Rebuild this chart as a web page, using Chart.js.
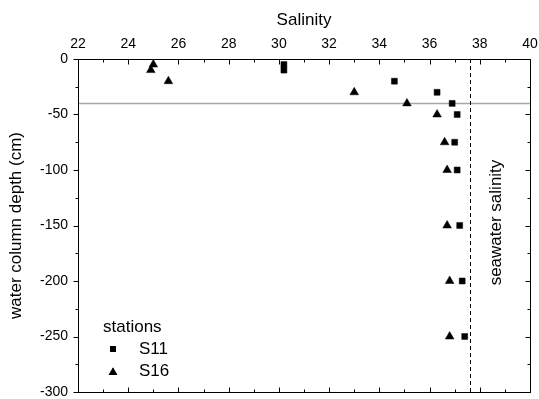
<!DOCTYPE html>
<html><head><meta charset="utf-8">
<script src="https://cdn.jsdelivr.net/npm/chart.js@4"></script>
<style>html,body{margin:0;padding:0;background:#fff}#wrap{width:539px;height:399px}</style>
</head><body><div id="wrap"><canvas id="c" width="539" height="399"></canvas></div>
<script>
// ---- data ----
const salinityTicks = [22, 24, 26, 28, 30, 32, 34, 36, 38, 40];
const depthTicks = [0, -50, -100, -150, -200, -250, -300];
const stationNames = ['S11', 'S16'];
const s11Salinity = [30.2, 30.2, 34.6, 36.3, 36.9, 37.1, 37.0, 37.1, 37.2, 37.3, 37.4];
const s11Depth    = [-5, -10, -20, -30, -40, -50, -75, -100, -150, -200, -250];
const s16Salinity = [25.0, 24.9, 25.6, 33.0, 35.1, 36.3, 36.6, 36.7, 36.7, 36.8, 36.8];
const s16Depth    = [-5, -10, -20, -30, -40, -50, -75, -100, -150, -200, -250];
const seawaterSalinity = 37.6;
const referenceDepth = -40;

const FONT = "'Liberation Sans', Arial, sans-serif";
Chart.defaults.font.family = FONT;
Chart.defaults.color = '#000';

const toPts = (xs, ys) => xs.map((x, i) => ({ x: x, y: ys[i] }));

const decorPlugin = {
  id: 'decor',
  beforeDatasetsDraw(chart) {
    const { ctx, chartArea: a, scales } = chart;
    ctx.save();
    const yy = Math.round(scales.y.getPixelForValue(referenceDepth)) + 0.5;
    ctx.strokeStyle = '#a8a8a8';
    ctx.lineWidth = 1.3;
    ctx.beginPath(); ctx.moveTo(a.left, yy); ctx.lineTo(a.right, yy); ctx.stroke();
    const xx = Math.round(scales.x.getPixelForValue(seawaterSalinity)) + 0.5;
    ctx.strokeStyle = '#000';
    ctx.lineWidth = 1;
    ctx.setLineDash([4, 3]);
    ctx.beginPath(); ctx.moveTo(xx, a.top); ctx.lineTo(xx, a.bottom); ctx.stroke();
    ctx.restore();
  },
  afterDatasetsDraw(chart) {
    const { ctx, chartArea: a, scales } = chart;
    const L = Math.round(a.left) + 0.5, R = Math.round(a.right) + 0.5;
    const T = Math.round(a.top) + 0.5, B = Math.round(a.bottom) + 0.5;
    ctx.save();
    ctx.strokeStyle = '#000';
    ctx.lineWidth = 1;
    ctx.strokeRect(L, T, R - L, B - T);
    ctx.beginPath();
    for (let v = salinityTicks[0]; v <= salinityTicks[salinityTicks.length - 1]; v += 1) {
      const major = salinityTicks.includes(v);
      const len = major ? 5 : 3;
      const px = Math.round(scales.x.getPixelForValue(v)) + 0.5;
      ctx.moveTo(px, T); ctx.lineTo(px, T + len);
      ctx.moveTo(px, B); ctx.lineTo(px, B - len);
    }
    for (let v = 0; v >= -300; v -= 25) {
      const major = depthTicks.includes(v);
      const len = major ? 5 : 3;
      const py = Math.round(scales.y.getPixelForValue(v)) + 0.5;
      ctx.moveTo(L, py); ctx.lineTo(L - len, py);
      ctx.moveTo(R, py); ctx.lineTo(R - len, py);
    }
    ctx.stroke();
    ctx.restore();
  },
  afterDraw(chart) {
    const { ctx, chartArea: a, scales } = chart;
    ctx.save();
    ctx.fillStyle = '#000';
    const xx = scales.x.getPixelForValue(seawaterSalinity);
    ctx.translate(xx + 27, (a.top + a.bottom) / 2 - 3);
    ctx.rotate(-Math.PI / 2);
    ctx.font = '17px ' + FONT;
    ctx.textAlign = 'center';
    ctx.textBaseline = 'middle';
    ctx.fillText('seawater salinity', 0, 0);
    ctx.restore();

    ctx.save();
    ctx.fillStyle = '#000';
    ctx.font = '17px ' + FONT;
    ctx.textBaseline = 'middle';
    ctx.textAlign = 'left';
    const lx = a.left + 25, ly = a.bottom - 65;
    ctx.fillText('stations', lx, ly);
    chart.data.datasets.forEach((ds, i) => {
      const y = ly + 22 * (i + 1);
      Chart.helpers.drawPoint(ctx, { pointStyle: ds.pointStyle, radius: ds.pointRadius, borderWidth: 0, rotation: 0 }, a.left + 35, y + (ds.pointStyle === 'triangle' ? 1.5 : 0));
      ctx.fillStyle = '#000';
      ctx.fill();
      ctx.fillText(stationNames[i], a.left + 61, y);
    });
    ctx.restore();
  }
};

const noEdgePadding = (s) => { s.paddingLeft = 0; s.paddingRight = 0; s.paddingTop = 0; s.paddingBottom = 0; };

new Chart(document.getElementById('c').getContext('2d'), {
  type: 'scatter',
  data: {
    datasets: [
      { label: stationNames[0], data: toPts(s11Salinity, s11Depth), pointStyle: 'rect', pointRadius: 4.2,
        backgroundColor: '#000', borderColor: '#000', borderWidth: 0.5 },
      { label: stationNames[1], data: toPts(s16Salinity, s16Depth), pointStyle: 'triangle', pointRadius: 5,
        backgroundColor: '#000', borderColor: '#000', borderWidth: 0.5 }
    ]
  },
  options: {
    responsive: false, animation: false, devicePixelRatio: 1,
    layout: { padding: { left: 0, top: 0, right: 9, bottom: 7 } },
    plugins: { legend: { display: false }, tooltip: { enabled: false } },
    scales: {
      x: {
        type: 'linear', position: 'top', min: 22, max: 40,
        afterBuildTicks(s) { s.ticks = salinityTicks.map(v => ({ value: v })); },
        ticks: { font: { size: 14 }, color: '#000', padding: 6, maxRotation: 0 },
        grid: { display: false, drawTicks: false }, border: { display: false },
        title: { display: true, text: 'Salinity', font: { size: 17 }, color: '#000', padding: { top: 10, bottom: 0 } },
        afterFit(s) { s.height = 59; noEdgePadding(s); }
      },
      y: {
        type: 'linear', position: 'left', min: -300, max: 0,
        afterBuildTicks(s) { s.ticks = depthTicks.map(v => ({ value: v })); },
        ticks: { font: { size: 14, lineHeight: 1 }, color: '#000', padding: 10 },
        grid: { display: false, drawTicks: false }, border: { display: false },
        title: { display: true, text: 'water column depth (cm)', font: { size: 17 }, color: '#000', padding: { top: 6, bottom: 0 } },
        afterFit(s) { s.width = 78; noEdgePadding(s); }
      }
    }
  },
  plugins: [decorPlugin]
});
</script>
</body></html>
